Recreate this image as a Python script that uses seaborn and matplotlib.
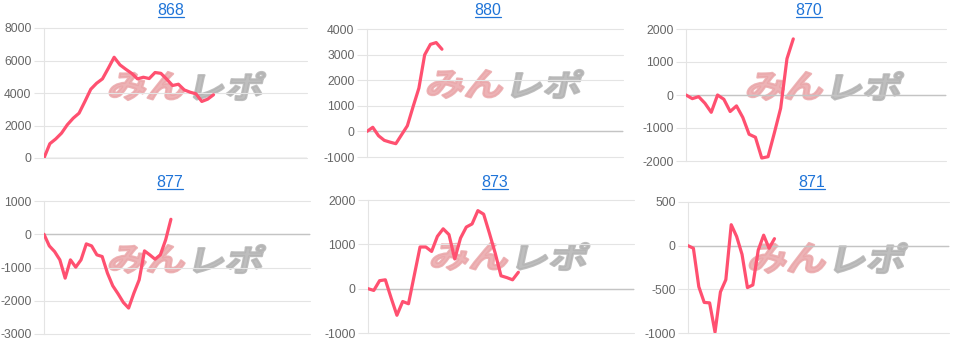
import numpy as np
import pandas as pd
import seaborn as sns
import matplotlib
matplotlib.use("Agg")
import matplotlib.pyplot as plt
from matplotlib.textpath import TextPath
from matplotlib.patches import PathPatch
from matplotlib.font_manager import FontProperties
from matplotlib.transforms import Affine2D
from matplotlib.lines import Line2D

# ---------------- data ----------------
titles = ["868", "880", "870", "877", "873", "871"]

v868 = [0, 880, 1170, 1530, 2050, 2450, 2760, 3480, 4230, 4600, 4870, 5520, 6200,
        5730, 5460, 5210, 4870, 4970, 4890, 5260, 5210, 4850, 4460, 4540, 4190,
        4050, 3950, 3480, 3620, 3890]
v880 = [0, 160, -170, -350, -420, -480, -130, 220, 970, 1690, 2990, 3400, 3470, 3210]
v870 = [0, -110, -50, -250, -525, 0, -130, -500, -330, -680, -1190, -1280, -1910,
        -1870, -1150, -400, 1100, 1700]
v877 = [0, -350, -520, -770, -1320, -770, -990, -770, -290, -350, -620, -670, -1170,
        -1550, -1790, -2050, -2220, -1770, -1370, -500, -620, -750, -620, -170, 450]
v873 = [0, -40, 180, 200, -210, -600, -290, -340, 300, 940, 940, 840, 1180, 1350,
        1220, 670, 1140, 1390, 1460, 1760, 1680, 1250, 800, 290, 250, 200, 370]
v871 = [0, -30, -470, -650, -655, -990, -530, -390, 240, 105, -100, -480, -450,
        -50, 120, -30, 80]
series = [v868, v880, v870, v877, v873, v871]

y_min = [0, -1000, -2000, -3000, -1000, -1000]
y_max = [8000, 4000, 2000, 1000, 2000, 500]
y_step = [2000, 1000, 1000, 1000, 1000, 500]
x_span = [45, 44.4, 41.2, 50.3, 46, 48.3]

# ---------------- layout (pixels) ----------------
W, H = 956, 343
boxes = [(44, 28, 307, 158), (367, 29, 623, 157), (686, 29, 946, 161),
         (44, 201, 310, 334), (368, 200, 634, 333), (688, 202, 949, 333)]
title_pos = [(171, 15), (488, 15), (809, 15), (170, 187), (495, 187), (812, 187)]
logo_box = [(108, 266, 72, 100), (426, 584, 70, 98), (746, 904, 72, 100),
            (108, 266, 245, 273), (430, 590, 243, 270), (748, 908, 243, 273)]

LINE = "#ff5070"
GRID = "#e4e4e4"
ZERO = "#c4c4c4"
TICK = "#666666"
TITLE = "#1f74d8"

sns.set_theme(style="white")
plt.rcParams["font.family"] = ["Liberation Sans", "DejaVu Sans"]
plt.rcParams["axes.unicode_minus"] = False

fig = plt.figure(figsize=(W / 100, H / 100), dpi=100)
fig.patch.set_facecolor("white")

jp = FontProperties(family="Noto Sans CJK JP", weight="bold")


def draw_logo(box):
    x0, x1, yt, yb = box
    h = yb - yt
    total = x1 - x0 - h * np.tan(np.radians(12))
    parts = [("みん", "#eaa6a9", 0.0, 0.49), ("レポ", "#b3b3b3", 0.56, 0.44)]
    for txt, col, off, frac in parts:
        tp = TextPath((0, 0), txt, size=1, prop=jp)
        ext = tp.get_extents()
        sx = total * frac / ext.width
        sy = h / ext.height
        tr = (Affine2D().translate(-ext.x0, -ext.y0).scale(sx, sy)
              .skew_deg(12, 0).translate(x0 + total * off, H - yb))
        p = PathPatch(tp, facecolor=col, edgecolor=col, lw=1.6, alpha=0.85,
                      joinstyle="round", transform=tr, zorder=1)
        fig.add_artist(p)


titles_txt = []
for i in range(6):
    l, t, r, b = boxes[i]
    ax = fig.add_axes([l / W, 1 - b / H, (r - l) / W, (b - t) / H])
    ax.set_facecolor("none")
    ax.set_zorder(2)
    vals = series[i]
    df = pd.DataFrame({"x": np.arange(len(vals)), "y": vals})
    ax.axhline(0, color=ZERO, lw=1.0, zorder=2)
    sns.lineplot(data=df, x="x", y="y", ax=ax, color=LINE, lw=2.3,
                 estimator=None, zorder=3)
    ax.set_xlim(0, x_span[i])
    ax.set_ylim(y_min[i], y_max[i])
    ax.set_yticks(np.arange(y_min[i], y_max[i] + 1, y_step[i]))
    ax.set_xticks([])
    ax.set_xlabel("")
    ax.set_ylabel("")
    ax.grid(axis="y", color=GRID, lw=0.8)
    for g in ax.get_ygridlines():
        g.set_clip_on(False)
    ax.tick_params(axis="y", length=7.5, width=0.8, color=GRID, pad=1.5,
                   labelsize=8.7, labelcolor=TICK, left=True)
    for s in ["top", "right", "bottom"]:
        ax.spines[s].set_visible(False)
    ax.spines["left"].set_color(GRID)
    ax.spines["left"].set_linewidth(0.8)
    draw_logo(logo_box[i])
    tx, ty = title_pos[i]
    tt = fig.text(tx / W, 1 - ty / H, titles[i], ha="center", va="baseline",
                  color=TITLE, fontsize=11.5)
    titles_txt.append(tt)

fig.canvas.draw()
r = fig.canvas.get_renderer()
for tt, (tx, ty) in zip(titles_txt, title_pos):
    bb = tt.get_window_extent(r)
    yy = 1 - (ty + 1.8) / H
    fig.add_artist(Line2D([bb.x0 / W, bb.x1 / W], [yy, yy], color=TITLE,
                          lw=0.9, transform=fig.transFigure))

fig.savefig("out.png", dpi=100)
